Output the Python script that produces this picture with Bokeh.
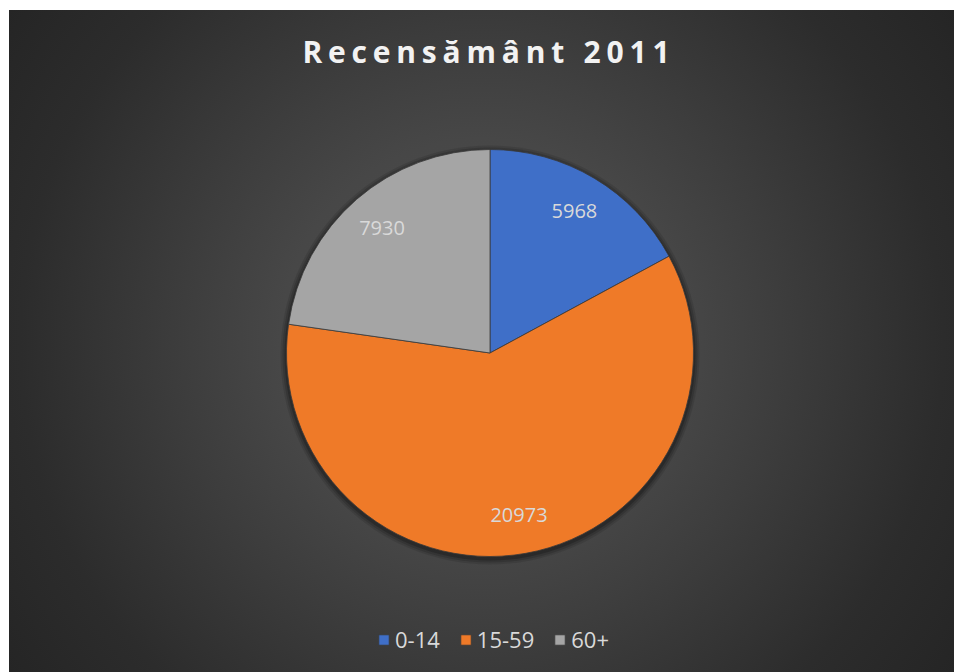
import numpy as np
from bokeh.plotting import figure
from bokeh.layouts import column
from bokeh.models import ColumnDataSource, Range1d, Label
from bokeh.core.properties import value
from bokeh.embed import file_html
from bokeh.resources import INLINE

# ---- data ----
title_text = "Recensământ 2011"
categories = ["0-14", "15-59", "60+"]
values = [5968, 20973, 7930]
colors = ["#3f6fc8", "#ef7a28", "#a5a5a5"]

# ---- layout ----
W, HT, H = 945, 90, 572
cx, cy, R = 480.5, 319.5, 203.5

vals = np.array(values, dtype=float)
frac = vals / vals.sum()
cum = np.concatenate([[0.0], np.cumsum(frac)])
start = np.pi / 2 - cum[:-1] * 2 * np.pi
end = np.pi / 2 - cum[1:] * 2 * np.pi
mid = (start + end) / 2

src = ColumnDataSource(dict(
    label=categories, value=values, start=start, end=end, color=colors,
    lx=cx + 0.81 * R * np.cos(mid), ly=cy + 0.81 * R * np.sin(mid),
    txt=[str(v) for v in values],
))


def bare(fig):
    fig.grid.visible = False
    fig.outline_line_color = None
    fig.background_fill_alpha = 0
    fig.border_fill_alpha = 0


# title figure (letter-spaced title)
pt = figure(width=W, height=HT, x_range=Range1d(0, W), y_range=Range1d(0, HT),
            output_backend="svg", toolbar_location=None, min_border=0,
            x_axis_location=None, y_axis_location=None)
bare(pt)
pt.styles = {"letter-spacing": "5.8px"}
pt.add_layout(Label(x=433, y=49, text=title_text, text_align="center", text_baseline="alphabetic",
                    text_font="Open Sans", text_font_style="bold", text_font_size="30px",
                    text_color="#f2f2f2"))

# main figure
p = figure(width=W, height=H, x_range=Range1d(0, W), y_range=Range1d(0, H),
           output_backend="svg", toolbar_location=None, min_border=0,
           x_axis_location=None, y_axis_location=None)
bare(p)

# soft shadow under the pie
for rr, a in [(R + 6, 0.10), (R + 4, 0.14), (R + 2, 0.2)]:
    p.circle(x=cx, y=cy - 2, radius=rr, fill_color="black", fill_alpha=a, line_color=None)

# pie slices
p.wedge(x=cx, y=cy, radius=R, start_angle="start", end_angle="end", direction="clock",
        fill_color="color", line_color="#3a3a3a", line_width=0.8, source=src,
        legend_field="label")

# vertical shading overlay (lighter top, darker bottom)
def segment(y_cut, upper, n=60):
    d = y_cut - cy
    a0 = np.arcsin(np.clip(d / R, -1, 1))
    if upper:
        th = np.linspace(a0, np.pi - a0, n)
    else:
        th = np.linspace(np.pi - a0, 2 * np.pi + a0, n)
    return list(cx + (R - 0.5) * np.cos(th)), list(cy + (R - 0.5) * np.sin(th))

xs, ys, fc, fa = [], [], [], []
N = 30
for k in range(1, N + 1):
    yc = cy + R - k * (R / N)
    x, y = segment(yc, True)
    xs.append(x); ys.append(y); fc.append("white"); fa.append(1 - (1 - 0.14) ** (1 / N))
for k in range(1, N + 1):
    yc = cy - R + k * (R / N)
    x, y = segment(yc, False)
    xs.append(x); ys.append(y); fc.append("black"); fa.append(1 - (1 - 0.05) ** (1 / N))
p.patches(xs=xs, ys=ys, fill_color=fc, fill_alpha=fa, line_color=None)

# data labels
p.text(x="lx", y="ly", text="txt", source=src, text_align="center", text_baseline="middle",
       text_color="#d9d9d9", text_font=value("Open Sans"), text_font_size="20px")

# legend
leg = p.legend[0]
leg.location = (368, 18)
leg.orientation = "horizontal"
leg.background_fill_alpha = 0
leg.border_line_alpha = 0
leg.label_text_color = "#d9d9d9"
leg.label_text_font = "Open Sans"
leg.label_text_font_size = "22px"
leg.glyph_width = 13
leg.glyph_height = 13
leg.label_standoff = 5
leg.spacing = 19
leg.padding = 0
leg.margin = 0

page = column(pt, p, spacing=0)
page.styles = {
    "background": "radial-gradient(circle at 50% 50%, #4f4f4f 0%, #474747 35%, #3d3d3d 52%, #2c2c2c 80%, #252525 100%)",
    "margin-left": "9px",
    "margin-top": "10px",
}

open("out.html", "w").write(file_html(page, INLINE))
